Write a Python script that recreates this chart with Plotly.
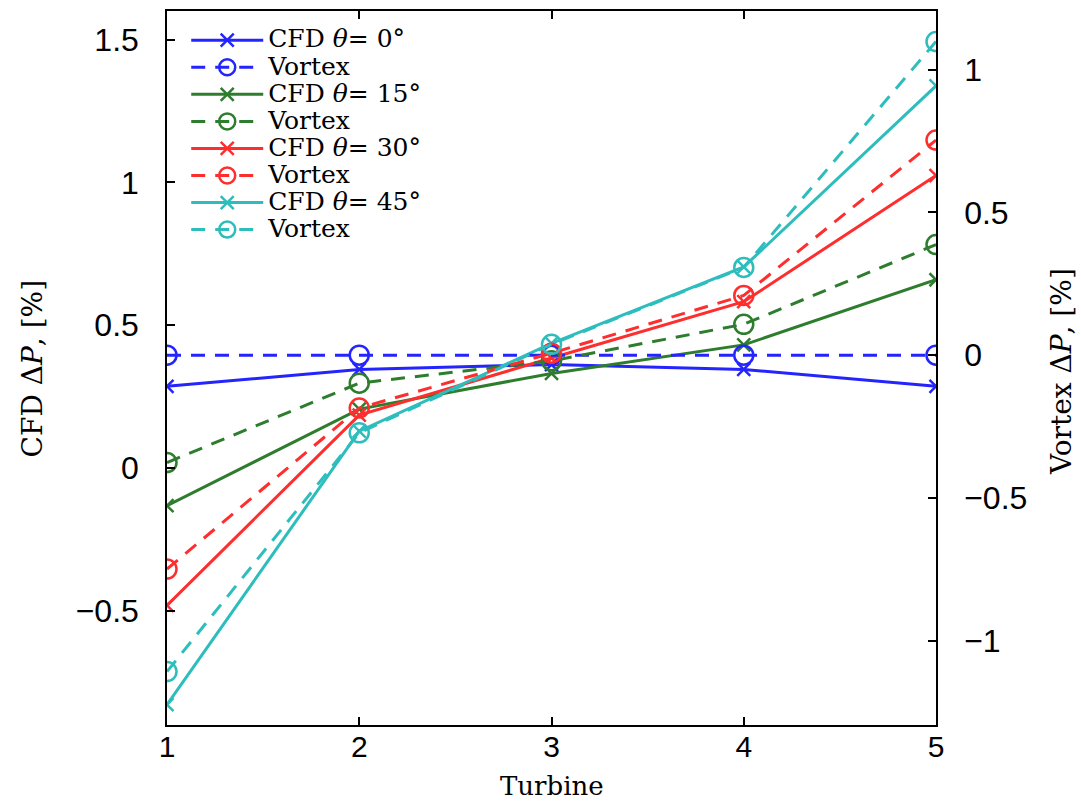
import plotly.graph_objects as go

turbines = [1, 2, 3, 4, 5]
angles = ["0", "15", "30", "45"]
colors = ["#2424ff", "#2e7d2e", "#ff2e2e", "#2ebdbd"]

# CFD ΔP [%] (left axis)
cfd = {
    "0": [0.286, 0.345, 0.362, 0.345, 0.286],
    "15": [-0.132, 0.206, 0.331, 0.431, 0.659],
    "30": [-0.481, 0.185, 0.385, 0.582, 1.024],
    "45": [-0.829, 0.129, 0.436, 0.704, 1.338],
}
# Vortex ΔP [%] (right axis)
vortex = {
    "0": [0.0, 0.0, 0.0, 0.0, 0.0],
    "15": [-0.376, -0.098, -0.02, 0.108, 0.387],
    "30": [-0.749, -0.185, 0.007, 0.209, 0.753],
    "45": [-1.108, -0.272, 0.038, 0.307, 1.098],
}

serif = "DejaVu Serif"
sans = "Liberation Sans"
LEG = '<span style="font-family:\'DejaVu Serif\';font-size:25px">{}</span>'

fig = go.Figure()
for a, c in zip(angles, colors):
    fig.add_trace(go.Scatter(
        x=turbines, y=cfd[a], mode="lines+markers",
        name=LEG.format(f"CFD <i>θ</i>=&nbsp;{a}°"),
        line=dict(color=c, width=3),
        marker=dict(symbol="x-thin-open", size=13, line=dict(color=c, width=2.5)),
        yaxis="y",
    ))
    fig.add_trace(go.Scatter(
        x=turbines, y=vortex[a], mode="lines+markers",
        name=LEG.format("Vortex"),
        line=dict(color=c, width=3, dash="14px,10px"),
        marker=dict(symbol="circle-open", size=19, line=dict(color=c, width=2.5)),
        yaxis="y2",
    ))

axis_common = dict(
    showgrid=False, zeroline=False, showline=True, linecolor="black", linewidth=1.5,
    ticks="inside", ticklen=8, tickcolor="black", tickwidth=1.5,
    tickfont=dict(family=sans, size=32, color="black"),
)

fig.update_layout(
    width=1081, height=801,
    margin=dict(l=167, r=145, t=9, b=76),
    paper_bgcolor="white", plot_bgcolor="white",
    showlegend=True,
    legend=dict(x=0.025, y=0.985, xanchor="left", yanchor="top", itemwidth=72,
                bgcolor="rgba(0,0,0,0)", tracegroupgap=0,
                font=dict(family=serif, size=18.5, color="black")),
    xaxis=dict(range=[1, 5], tickvals=turbines, mirror="ticks",
               ticklabelstandoff=-6,
               **{**axis_common, "tickfont": dict(family=sans, size=30, color="black")}),
    yaxis=dict(range=[-0.9, 1.6], tickvals=[-0.5, 0, 0.5, 1, 1.5],
               ticktext=["\u22120.5", "0", "0.5", "1", "1.5"],
               ticklabelstandoff=20, **axis_common),
    yaxis2=dict(range=[-1.295, 1.205], overlaying="y", side="right",
                tickvals=[-1, -0.5, 0, 0.5, 1],
                ticktext=["\u22121", "\u22120.5", "0", "0.5", "1"],
                ticklabelstandoff=20, **axis_common),
    annotations=[
        dict(text="CFD Δ<i>P</i>, [%]", textangle=-90, xref="paper", yref="paper",
             x=-0.175, y=0.5, xanchor="center", yanchor="middle", showarrow=False,
             font=dict(family=serif, size=28, color="black")),
        dict(text="Vortex Δ<i>P</i>, [%]", textangle=-90, xref="paper", yref="paper",
             x=1.163, y=0.495, xanchor="center", yanchor="middle", showarrow=False,
             font=dict(family=serif, size=28, color="black")),
        dict(text="Turbine", xref="paper", yref="paper", x=0.5, y=-0.086,
             xanchor="center", yanchor="middle", showarrow=False,
             font=dict(family=serif, size=26, color="black")),
    ],
)

fig.write_html("out.html")
